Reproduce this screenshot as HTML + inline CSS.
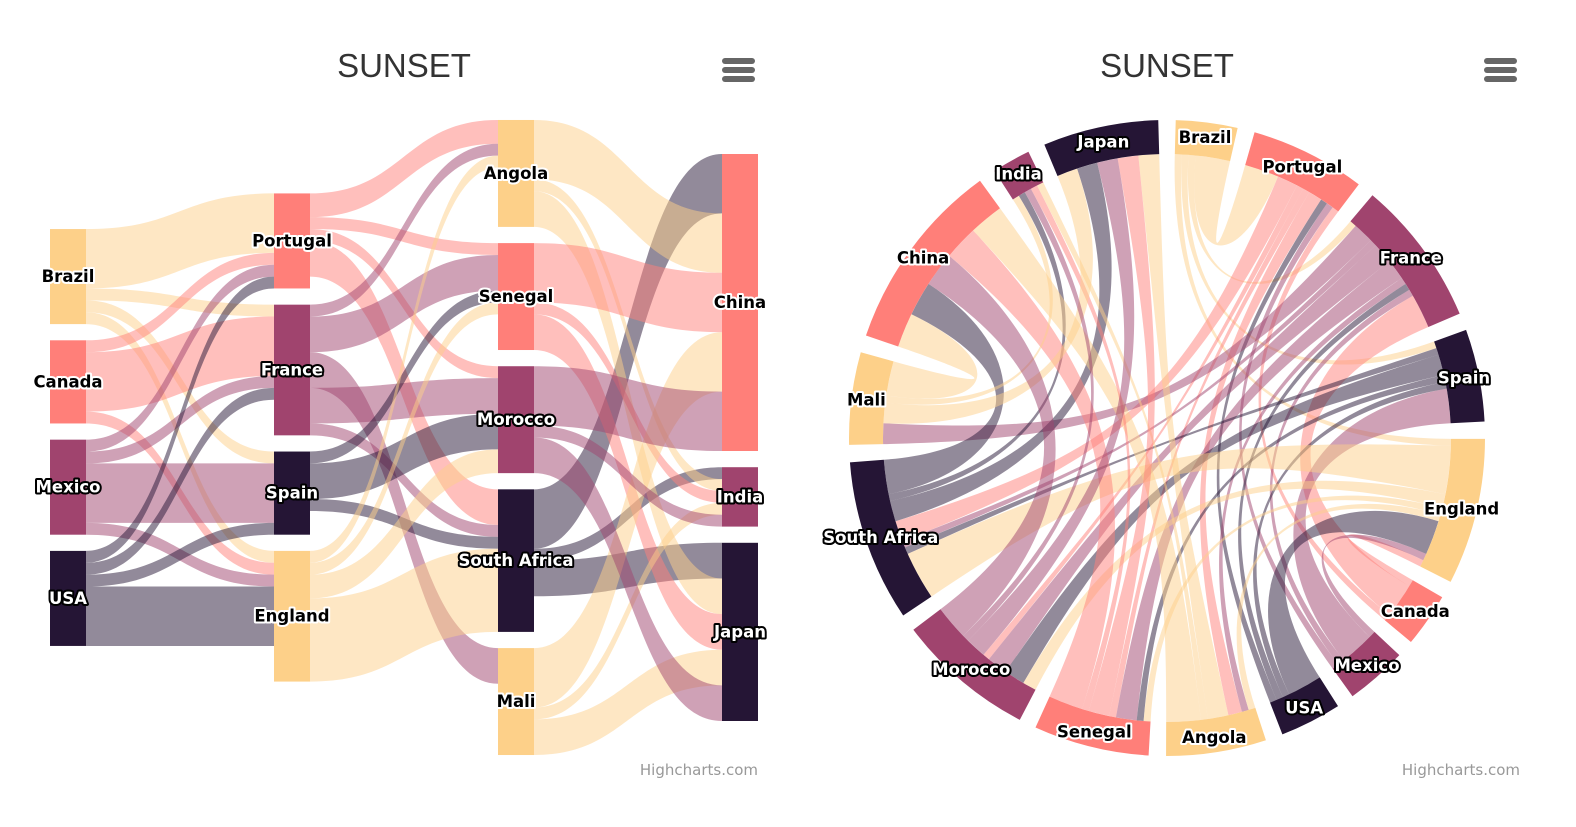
<!DOCTYPE html>
<html><head><meta charset="utf-8">
<style>
html,body{margin:0;padding:0;background:#fff;}
svg text{font-family:"DejaVu Sans","Liberation Sans",sans-serif;}
.lbl{font-weight:bold;font-size:16.5px;paint-order:stroke;stroke-width:4px;stroke-linejoin:round;text-anchor:middle;dominant-baseline:central;}
</style></head>
<body>
<svg id="svg" width="1576" height="822" viewBox="0 0 1576 822" xmlns="http://www.w3.org/2000/svg">
<g>
<text x="404" y="77" font-size="33" fill="#333" text-anchor="middle" style="font-family:'Liberation Sans',sans-serif">SUNSET</text>
<g fill="#666">
<rect x="722" y="58" width="33" height="6" rx="3"/><rect x="722" y="67" width="33" height="6" rx="3"/><rect x="722" y="76" width="33" height="6" rx="3"/></g>
<text x="758" y="775" font-size="15" fill="#999" text-anchor="end">Highcharts.com</text>
<g id="sLinks"></g><g id="sNodes"></g>
</g>
<g>
<text x="1167" y="77" font-size="33" fill="#333" text-anchor="middle" style="font-family:'Liberation Sans',sans-serif">SUNSET</text>
<g fill="#666">
<rect x="1484" y="58" width="33" height="6" rx="3"/><rect x="1484" y="67" width="33" height="6" rx="3"/><rect x="1484" y="76" width="33" height="6" rx="3"/></g>
<text x="1520" y="775" font-size="15" fill="#999" text-anchor="end">Highcharts.com</text>
<g id="wLinks"></g><g id="wNodes"></g>
</g>
</svg>
<script>
const fromNodes = ['Brazil','Brazil','Brazil','Brazil','Canada','Canada','Canada','Mexico','Mexico','Mexico','Mexico','USA','USA','USA','USA','Portugal','Portugal','Portugal','Portugal','France','France','France','France','France','Spain','Spain','Spain','England','England','England','England','South Africa','South Africa','South Africa','Angola','Angola','Angola','Senegal','Senegal','Senegal','Mali','Mali','Mali','Morocco','Morocco','Morocco'];
const toNodes = ['Portugal','France','Spain','England','Portugal','France','England','Portugal','France','Spain','England','Portugal','France','Spain','England','Angola','Senegal','Morocco','South Africa','Angola','Senegal','Mali','Morocco','South Africa','Senegal','Morocco','South Africa','Angola','Senegal','Morocco','South Africa','China','India','Japan','China','India','Japan','China','India','Japan','China','India','Japan','China','India','Japan'];
const weights = [5,1,1,1,1,5,1,1,1,5,1,1,1,1,5,2,1,1,3,1,3,3,3,1,1,3,1,1,1,2,7,5,1,3,5,1,3,5,1,3,5,1,3,5,1,3];
const sankeyColumns = [['Brazil','Canada','Mexico','USA'],['Portugal','France','Spain','England'],['Angola','Senegal','Morocco','South Africa','Mali'],['China','India','Japan']];
const wheelOrder = ['Brazil','Portugal','France','Spain','England','Canada','Mexico','USA','Angola','Senegal','Morocco','South Africa','Mali','China','India','Japan'];
const palette = ['#FDD089','#FF7F79','#A0446E','#251535'];

const NS='http://www.w3.org/2000/svg';
function mk(tag,attrs,parent){const e=document.createElementNS(NS,tag);for(const k in attrs)e.setAttribute(k,attrs[k]);parent.appendChild(e);return e;}
function slug(s){return s.toLowerCase().replace(/\s+/g,'-');}
const colorOf={};wheelOrder.forEach((n,i)=>colorOf[n]=palette[i%4]);
const darkNode=n=>colorOf[n]==='#A0446E'||colorOf[n]==='#251535';
const links=fromNodes.map((f,i)=>({from:f,to:toNodes[i],w:weights[i],i}));

// ---------- Sankey ----------
(function(){
  const k=11.88,gap=16.2,cy=437.5,colX=[50,274,498,722],nw=36;
  const pos={};
  sankeyColumns.forEach((col,ci)=>{
    const vals=col.map(n=>{const o=links.filter(l=>l.from===n).reduce((a,l)=>a+l.w,0);const inn=links.filter(l=>l.to===n).reduce((a,l)=>a+l.w,0);return Math.max(o,inn);});
    const tot=vals.reduce((a,b)=>a+b,0)*k+gap*(col.length-1);
    let y=cy-tot/2;
    col.forEach((n,j)=>{pos[n]={x:colX[ci],y:y,h:vals[j]*k,col:ci,row:j};y+=vals[j]*k+gap;});
  });
  const LG=document.getElementById('sLinks'),NG=document.getElementById('sNodes');
  const segs={};
  Object.keys(pos).forEach(n=>{
    let y=pos[n].y;
    links.filter(l=>l.from===n).forEach(l=>{segs['o'+l.i]=y;y+=l.w*k;});
    y=pos[n].y;
    links.filter(l=>l.to===n).forEach(l=>{segs['i'+l.i]=y;y+=l.w*k;});
  });
  links.forEach(l=>{
    const x1=pos[l.from].x+nw,x2=pos[l.to].x,y1=segs['o'+l.i],y2=segs['i'+l.i],h=l.w*k,mx=(x1+x2)/2;
    const d=`M${x1},${y1} C${mx},${y1} ${mx},${y2} ${x2},${y2} L${x2},${y2+h} C${mx},${y2+h} ${mx},${y1+h} ${x1},${y1+h} Z`;
    const p=mk('path',{d:d,fill:colorOf[l.from],'fill-opacity':0.5},LG);
    
    
  });
  Object.keys(pos).forEach(n=>{
    const P=pos[n];
    const r=mk('rect',{x:P.x,y:P.y,width:nw,height:P.h,fill:colorOf[n]},NG);
    
    
    const dk=darkNode(n);
    const t=mk('text',{x:P.x+nw/2,y:P.y+P.h/2,class:'lbl',fill:dk?'#fff':'#000',stroke:dk?'#000':'#fff'},NG);
    t.textContent=n;
    
    
  });
})();

// ---------- Dependency wheel ----------
(function(){
  const cx=1167,cy=438,R=318,r=284,g=0.055;
  const sums=wheelOrder.map(n=>links.filter(l=>l.from===n||l.to===n).reduce((a,l)=>a+l.w,0));
  const tot=sums.reduce((a,b)=>a+b,0);
  const k=(2*Math.PI-g*wheelOrder.length)/tot;
  const node={};let a=g/2;
  wheelOrder.forEach((n,i)=>{node[n]={s:a,e:a+sums[i]*k,i:i};a+=sums[i]*k+g;});
  const P=(ang,rad)=>[cx+rad*Math.sin(ang),cy-rad*Math.cos(ang)];
  const seg={};
  wheelOrder.forEach(n=>{
    const th=(node[n].s+node[n].e)/2;
    const items=[];
    links.forEach(l=>{
      if(l.from===n)items.push({key:'o'+l.i,other:l.to,w:l.w});
      if(l.to===n)items.push({key:'i'+l.i,other:l.from,w:l.w});
    });
    items.forEach(it=>{const o=node[it.other];let d=((o.s+o.e)/2-th)%(2*Math.PI);if(d<0)d+=2*Math.PI;it.d=d;});
    items.sort((x,y)=>y.d-x.d);
    let s=node[n].s;
    items.forEach(it=>{seg[it.key]=[s,s+it.w*k];s+=it.w*k;});
  });
  const LG=document.getElementById('wLinks'),NG=document.getElementById('wNodes');
  function ctrl(pt,cf){return [cx+(pt[0]-cx)*cf,cy+(pt[1]-cy)*cf];}
  links.forEach(l=>{
    const A=seg['o'+l.i],B=seg['i'+l.i];
    let dist=Math.abs((A[0]+A[1])/2-(B[0]+B[1])/2)%(2*Math.PI);if(dist>Math.PI)dist=2*Math.PI-dist;
    const cf=Math.max(0.05,0.65*(1-dist/Math.PI));
    const a1=P(A[0],r),a2=P(A[1],r),b1=P(B[0],r),b2=P(B[1],r);
    const c1=ctrl(a2,cf),c2=ctrl(b1,cf),c3=ctrl(b2,cf),c4=ctrl(a1,cf);
    const d=`M${a1} A${r},${r} 0 0 1 ${a2} C${c1} ${c2} ${b1} A${r},${r} 0 0 1 ${b2} C${c3} ${c4} ${a1} Z`;
    const p=mk('path',{d:d,fill:colorOf[l.from],'fill-opacity':0.5},LG);
    
    
  });
  wheelOrder.forEach(n=>{
    const N=node[n];
    const o1=P(N.s,R),o2=P(N.e,R),i1=P(N.s,r),i2=P(N.e,r);
    const large=(N.e-N.s)>Math.PI?1:0;
    const d=`M${o1} A${R},${R} 0 ${large} 1 ${o2} L${i2} A${r},${r} 0 ${large} 0 ${i1} Z`;
    const p=mk('path',{d:d,fill:colorOf[n]},NG);
    
    
  });
  wheelOrder.forEach(n=>{
    const N=node[n];const c=P((N.s+N.e)/2,(R+r)/2+2);
    const dk=darkNode(n);
    const t=mk('text',{x:c[0],y:c[1],class:'lbl',fill:dk?'#fff':'#000',stroke:dk?'#000':'#fff'},NG);
    t.textContent=n;
    
    
  });
})();
</script>
</body></html>
